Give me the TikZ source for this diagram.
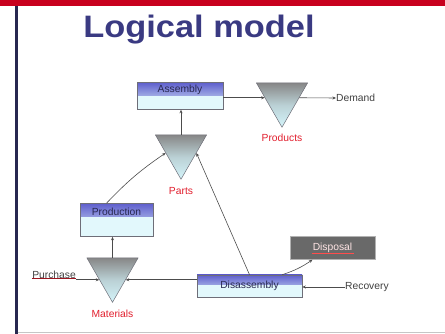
\documentclass[tikz,border=0pt]{standalone}
\usepackage{fontspec}
\setmainfont{Liberation Sans}
\usetikzlibrary{shapes.geometric,arrows.meta,calc}

\definecolor{barred}{RGB}{200,0,30}
\definecolor{edgenavy}{RGB}{40,40,80}
\definecolor{titleblue}{RGB}{58,58,130}
\definecolor{bandblue}{RGB}{95,95,205}
\definecolor{paleblue}{RGB}{226,248,252}
\definecolor{cyanpale}{RGB}{212,244,250}
\definecolor{boxline}{RGB}{110,110,120}
\definecolor{labelred}{RGB}{225,30,45}
\definecolor{stockgray}{RGB}{135,135,135}
\definecolor{darkbox}{RGB}{105,105,105}

\tikzset{
  every node/.style={font=\fontsize{10.3}{12}\selectfont},
  process/.style={draw=boxline, line width=0.6pt, fill=paleblue,
    rectangle, inner sep=0pt, text=edgenavy,
    path picture={\shade[top color=bandblue, bottom color=paleblue]
      (path picture bounding box.north west) rectangle
      ([yshift=-#1]path picture bounding box.north east);}},
  process/.default=13pt,
  stock/.style={regular polygon, regular polygon sides=3,
    shape border rotate=180, minimum size=59pt, inner sep=0pt,
    draw=boxline, line width=0.5pt,
    top color=stockgray, bottom color=cyanpale, middle color=gray!30!cyanpale},
  stocklabel/.style={text=labelred, inner sep=1pt},
  freelabel/.style={text=black!75, inner sep=0pt},
  flow/.style={draw=black!70, line width=0.6pt,
    -{Stealth[length=3.5pt,width=3pt]}},
}

\begin{document}
\begin{tikzpicture}[x=1pt, y=-1pt]
\useasboundingbox (0,0) rectangle (445,334);

% slide frame
\fill[barred] (0,0) rectangle (445,6);
\fill[edgenavy] (15,6) rectangle (17.5,334);
\draw[gray!45, line width=0.6pt] (17.5,332.5) -- (445,332.5);

% title
\node[font=\fontsize{31}{36}\bfseries, text=titleblue, inner sep=0pt]
  (title) at (199,30) {\scalebox{1.11}[1]{Logical model}};

% processes
\node[process, minimum width=86pt, minimum height=27pt,
      text depth=14pt, text height=7pt] (asm) at (180,96) {Assembly};
\node[process, minimum width=73pt, minimum height=33pt,
      text depth=16pt, text height=7pt] (prod) at (116.5,220) {Production};
\node[process=9pt, minimum width=105pt, minimum height=22pt] (dis) at (249.5,286) {Disassembly};
\node[draw=gray!60, fill=darkbox, minimum width=85pt, minimum height=23pt,
      text=red!10, inner sep=0pt] (disp) at (332.5,248) {Disposal};
\draw[red!70, line width=0.5pt] ([xshift=-21pt,yshift=-5.5pt]disp.center) -- ([xshift=21pt,yshift=-5.5pt]disp.center);

% stocks (inverted triangles)
\node[stock] (prd) at (282,97.75) {};
\node[stock] (parts) at (181,149.75) {};
\node[stock] (mat) at (112.5,272.75) {};

\node[stocklabel] (prdl) at (282,138) {Products};
\node[stocklabel] (partsl) at (181,191) {Parts};
\node[stocklabel] (matl) at (112.5,314) {Materials};

% external flows
\node[freelabel, anchor=west] (dem) at (336,98) {Demand};
\node[freelabel, anchor=west] (rec) at (345,287) {Recovery};
\node[freelabel, anchor=east] (pur) at (76,274.5) {Purchase};
\draw[labelred!70!black, line width=0.5pt] (pur.south west) -- (pur.south east);

% connectors
\draw[flow] (asm.east |- prd.west) -- (prd.west);
\draw[flow] (prd.east) -- (dem.west);
\draw[flow] (parts.north) -- (parts.north |- asm.south);
\draw[flow] ([xshift=-10pt]prod.north) to[bend left=6] (parts.192);
\draw[flow] (dis.north) -- (parts.-12);
\draw[flow] (mat.north) -- (mat.north |- prod.south);
\draw[flow] (pur.east |- mat.208) -- (mat.208);
\draw[flow] (dis.west |- mat.-28) -- (mat.-28);
\draw[flow] ($(dis.north)!0.62!(dis.north east)$) to[bend right=8] ([xshift=-20pt]disp.south);
\draw[flow] (rec.west) -- (dis.east |- rec.west);
\end{tikzpicture}
\end{document}
